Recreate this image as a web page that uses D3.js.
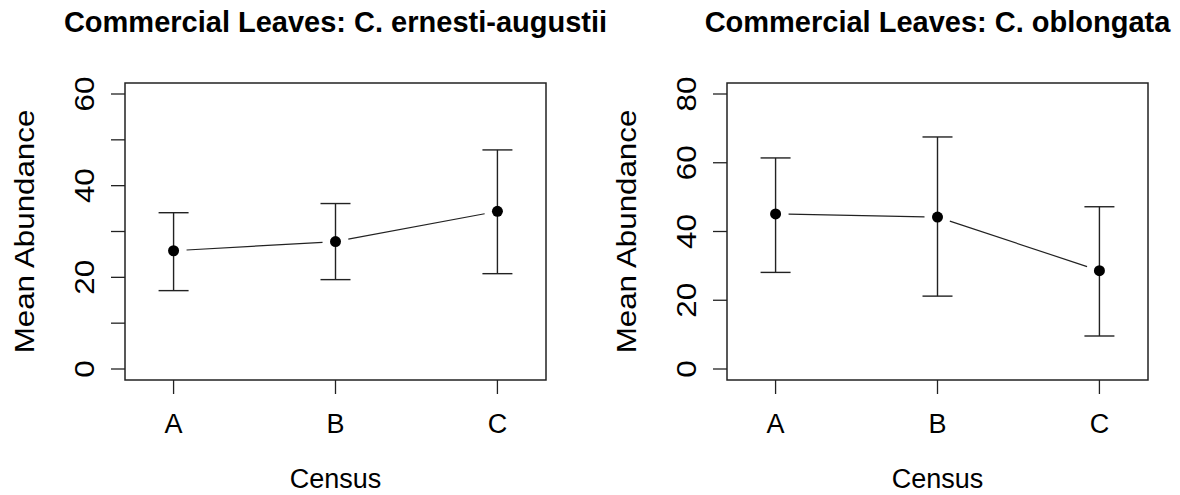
<!DOCTYPE html>
<html>
<head>
<meta charset="utf-8">
<script src="https://cdn.jsdelivr.net/npm/d3@7"></script>
<style>
  body { margin: 0; background: #fff; }
  svg { display: block; }
  text { font-family: "Liberation Sans", Arial, sans-serif; fill: #000; }
</style>
</head>
<body>
<svg id="chart" width="1180" height="495"></svg>
<script>
// census categories on the x axis
var censuses = ["A", "B", "C"];

// C. ernesti-augustii (left panel)
var ernestiMean  = [25.8, 27.8, 34.4];
var ernestiLower = [17.1, 19.5, 20.8];
var ernestiUpper = [34.1, 36.1, 47.8];

// C. oblongata (right panel)
var oblongataMean  = [45.1, 44.2, 28.6];
var oblongataLower = [28.1, 21.2, 9.6];
var oblongataUpper = [61.4, 67.5, 47.2];

var ernestiTicks   = [0, 10, 20, 30, 40, 50, 60];
var ernestiLabels  = [0, 20, 40, 60];
var oblongataTicks  = [0, 20, 40, 60, 80];
var oblongataLabels = [0, 20, 40, 60, 80];

var svg = d3.select("#chart");
var vStretch = 1.16; // rotated text looks taller in the original

var drawPanel = function(opt) {
    var left = opt.left, right = opt.left + 421, top = 83, bottom = 380;
    var g = svg.append("g");

    // R style: xlim c(0.75, 3.25), ylim padded by 4%
    var x = d3.scaleLinear().domain([0.7, 3.3]).range([left, right]);
    var yMax = opt.yMax;
    var y = d3.scaleLinear().domain([-0.04 * yMax, 1.04 * yMax]).range([bottom, top]);

    var data = opt.mean.map(function(m, i) {
        return { cat: censuses[i], pos: i + 1, mean: m, lo: opt.lower[i], hi: opt.upper[i] };
    });

    // box
    g.append("rect")
        .attr("x", left).attr("y", top)
        .attr("width", right - left).attr("height", bottom - top)
        .attr("fill", "none").attr("stroke", "#222").attr("stroke-width", 1.5);

    // y axis ticks
    g.selectAll(".ytick").data(opt.ticks).enter().append("line")
        .attr("x1", left).attr("x2", left - 14)
        .attr("y1", function(d) { return y(d); }).attr("y2", function(d) { return y(d); })
        .attr("stroke", "#222").attr("stroke-width", 1.3);
    g.selectAll(".ylab").data(opt.labels).enter().append("text")
        .attr("transform", function(d) {
            return "translate(" + (left - 31) + "," + y(d) + ") rotate(-90) scale(" + vStretch + ",1)";
        })
        .attr("text-anchor", "middle")
        .style("font-size", "27px")
        .text(function(d) { return d; });

    // x axis ticks
    g.selectAll(".xtick").data(data).enter().append("line")
        .attr("x1", function(d) { return x(d.pos); }).attr("x2", function(d) { return x(d.pos); })
        .attr("y1", bottom).attr("y2", bottom + 14)
        .attr("stroke", "#222").attr("stroke-width", 1.3);
    g.selectAll(".xlab").data(data).enter().append("text")
        .attr("x", function(d) { return x(d.pos); }).attr("y", 433)
        .attr("text-anchor", "middle")
        .style("font-size", "27px")
        .text(function(d) { return d.cat; });

    // axis titles and main title
    g.append("text")
        .attr("x", (left + right) / 2).attr("y", 488)
        .attr("text-anchor", "middle").style("font-size", "27px")
        .text("Census");
    g.append("text")
        .attr("transform", "translate(" + (left - 91) + "," + ((top + bottom) / 2) + ") rotate(-90) scale(" + vStretch + ",1)")
        .attr("text-anchor", "middle").style("font-size", "27px")
        .text("Mean Abundance");
    g.append("text")
        .attr("x", (left + right) / 2).attr("y", 32)
        .attr("text-anchor", "middle").style("font-size", "29px").style("font-weight", "bold")
        .text(opt.title);

    // connecting line (type = "b": gaps around points)
    var gap = 13;
    for (var i = 0; i < data.length - 1; i++) {
        var x0 = x(data[i].pos), y0 = y(data[i].mean);
        var x1 = x(data[i + 1].pos), y1 = y(data[i + 1].mean);
        var len = Math.sqrt((x1 - x0) * (x1 - x0) + (y1 - y0) * (y1 - y0));
        var ux = (x1 - x0) / len, uy = (y1 - y0) / len;
        g.append("line")
            .attr("x1", x0 + ux * gap).attr("y1", y0 + uy * gap)
            .attr("x2", x1 - ux * gap).attr("y2", y1 - uy * gap)
            .attr("stroke", "#222").attr("stroke-width", 1.2);
    }

    // error bars
    var cap = 15;
    var bars = g.selectAll(".bar").data(data).enter().append("g");
    bars.append("line")
        .attr("x1", function(d) { return x(d.pos); }).attr("x2", function(d) { return x(d.pos); })
        .attr("y1", function(d) { return y(d.lo); }).attr("y2", function(d) { return y(d.hi); })
        .attr("stroke", "#222").attr("stroke-width", 1.4);
    bars.append("line")
        .attr("x1", function(d) { return x(d.pos) - cap; }).attr("x2", function(d) { return x(d.pos) + cap; })
        .attr("y1", function(d) { return y(d.hi); }).attr("y2", function(d) { return y(d.hi); })
        .attr("stroke", "#222").attr("stroke-width", 1.4);
    bars.append("line")
        .attr("x1", function(d) { return x(d.pos) - cap; }).attr("x2", function(d) { return x(d.pos) + cap; })
        .attr("y1", function(d) { return y(d.lo); }).attr("y2", function(d) { return y(d.lo); })
        .attr("stroke", "#222").attr("stroke-width", 1.4);

    // mean points
    g.selectAll(".pt").data(data).enter().append("circle")
        .attr("cx", function(d) { return x(d.pos); })
        .attr("cy", function(d) { return y(d.mean); })
        .attr("r", 5.5)
        .attr("fill", "#000");
};

drawPanel({
    left: 125, yMax: 60, title: "Commercial Leaves: C. ernesti-augustii",
    mean: ernestiMean, lower: ernestiLower, upper: ernestiUpper,
    ticks: ernestiTicks, labels: ernestiLabels
});
drawPanel({
    left: 727, yMax: 80, title: "Commercial Leaves: C. oblongata",
    mean: oblongataMean, lower: oblongataLower, upper: oblongataUpper,
    ticks: oblongataTicks, labels: oblongataLabels
});
</script>
</body>
</html>
